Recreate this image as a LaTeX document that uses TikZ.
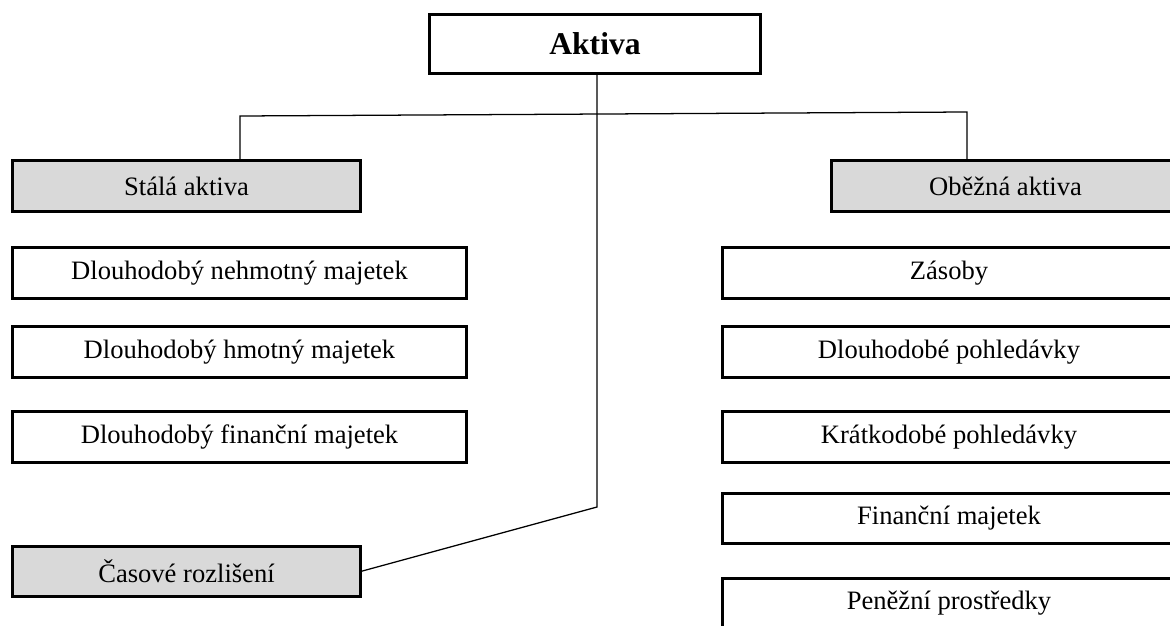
\documentclass[tikz,border=0pt]{standalone}
\usepackage{fontspec}
\setmainfont{Liberation Serif}
\usetikzlibrary{positioning,calc}

\begin{document}
\begin{tikzpicture}[x=0.025cm, y=-0.025cm, outer sep=0pt,
  box/.style={draw, line width=2.1pt, fill=white, inner sep=0pt,
    minimum height=1.26cm, font=\fontsize{18.9}{22}\selectfont},
  leftbox/.style={box, minimum width=11.33cm},
  rightbox/.style={box, minimum width=11.3cm},
  greybox/.style={box, fill=black!15, minimum width=8.7cm},
  headbox/.style={box, minimum width=8.28cm, minimum height=1.48cm,
    font=\fontsize{22.5}{26}\selectfont\bfseries},
  link/.style={line width=0.9pt}]

\useasboundingbox (0,0) rectangle (1170,625);

\node [headbox] at (595, 44) (AKTIVA) {Aktiva};

\node [greybox] at (186.5, 186) (STALA) {Stálá aktiva};
\node [leftbox] at (239.5, 273) (DNM) {Dlouhodobý nehmotný majetek};
\node [leftbox] at (239.5, 352) (DHM) {Dlouhodobý hmotný majetek};
\node [leftbox] at (239.5, 437) (DFM) {Dlouhodobý finanční majetek};
\node [greybox] at (186.5, 571.5) (CASOVE) {Časové rozlišení};

\node [greybox] at (1005.5, 186) (OBEZNA) {Oběžná aktiva};
\node [rightbox] at (949, 273) (ZASOBY) {Zásoby};
\node [rightbox] at (949, 352) (DLPOHL) {Dlouhodobé pohledávky};
\node [rightbox] at (949, 437) (KRPOHL) {Krátkodobé pohledávky};
\node [rightbox] at (949, 518.5) (FINMAJ) {Finanční majetek};
\node [rightbox] at (949, 603.5) (PENEZ) {Peněžní prostředky};

% branch points
\coordinate (LB) at (240, 116);
\coordinate (RB) at (967, 112);
\coordinate (MID) at (597, 507);

\draw [link] (STALA.north -| LB) -- (LB) -- (RB) -- (OBEZNA.north -| RB);
\draw [link] (AKTIVA.south -| MID) -- (MID) -- (CASOVE.east);

\end{tikzpicture}
\end{document}
